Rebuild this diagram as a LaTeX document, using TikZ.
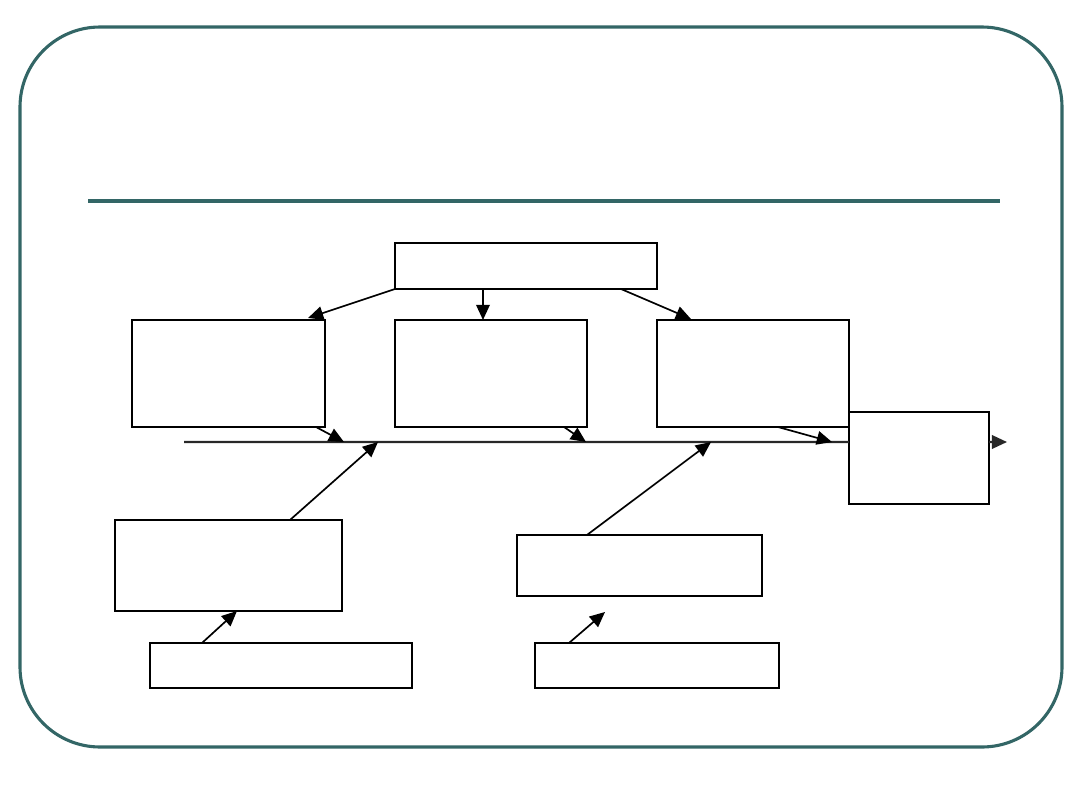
\documentclass[tikz,border=0pt]{standalone}
\usepackage{xcolor}
\usepackage{tikz}
\usetikzlibrary{arrows.meta,calc}
\definecolor{slideteal}{RGB}{51,102,102}
\definecolor{spinec}{RGB}{40,40,40}

\begin{document}
\begin{tikzpicture}[
  x=0.025cm, y=-0.025cm,
  box/.style={draw, line width=1.2pt, fill=white, inner sep=0pt, outer sep=0pt},
  arr/.style={-{Triangle[length=3.8mm, width=3.4mm]}, line width=1.2pt},
  frame/.style={draw=slideteal, line width=2.2pt, rounded corners=2cm}]
  \useasboundingbox (0,0) rectangle (1080,810);
  \path[frame] (20,27) rectangle (1062,747);
  \draw[slideteal, line width=3pt] (88,201) -- (1000,201);
  % cause boxes
  \node[box, minimum width=6.55cm, minimum height=1.15cm] (top) at (526,266) {};
  \node[box, minimum width=4.825cm, minimum height=2.675cm] (b1) at (228.5,373.5) {};
  \node[box, minimum width=4.8cm, minimum height=2.675cm] (b2) at (491,373.5) {};
  \node[box, minimum width=4.8cm, minimum height=2.675cm] (b3) at (753,373.5) {};
  \node[box, minimum width=3.5cm, minimum height=2.3cm] (eff) at (919,458) {};
  \node[box, minimum width=5.675cm, minimum height=2.275cm] (b4) at (228.5,565.5) {};
  \node[box, minimum width=6.125cm, minimum height=1.525cm] (b5) at (639.5,565.5) {};
  \node[box, minimum width=6.55cm, minimum height=1.125cm] (b6) at (281,665.5) {};
  \node[box, minimum width=6.1cm, minimum height=1.125cm] (b7) at (657,665.5) {};
  % spine
  \coordinate (sL) at (184,442);
  \coordinate (sR) at (1007,442);
  \coordinate (s1) at (344,442);
  \coordinate (s2) at (586,442);
  \coordinate (s3) at (832,442);
  \coordinate (s4) at (378,442);
  \coordinate (s5) at (711,442);
  \coordinate (t7) at (605,612);
  \draw[spinec, line width=1.6pt] (sL) -- ($(eff.north west)+(0,30)$);
  \draw[arr, spinec, line width=1.6pt] ($(eff.north east)+(0,30)$) -- (sR);
  \draw[arr] (top.south west) -- ($(b1.north east)+(-17,-2)$);
  \draw[arr] ($(top.south west)+(88,0)$) -- ($(b2.north west)+(88,0)$);
  \draw[arr] ($(top.south east)+(-36,0)$) -- ($(b3.north west)+(34,-1)$);
  \draw[arr] ($(b1.south east)+(-9,0)$) -- (s1);
  \draw[arr] ($(b2.south east)+(-23,0)$) -- (s2);
  \draw[arr] ($(b3.south east)+(-71,0)$) -- (s3);
  \draw[arr] ($(b4.north west)+(175,0)$) -- (s4);
  \draw[arr] ($(b5.north west)+(70,0)$) -- (s5);
  \draw[arr] ($(b6.north west)+(52,0)$) -- ($(b4.south west)+(122,0)$);
  \draw[arr] ($(b7.north west)+(34,0)$) -- (t7);
\end{tikzpicture}
\end{document}
